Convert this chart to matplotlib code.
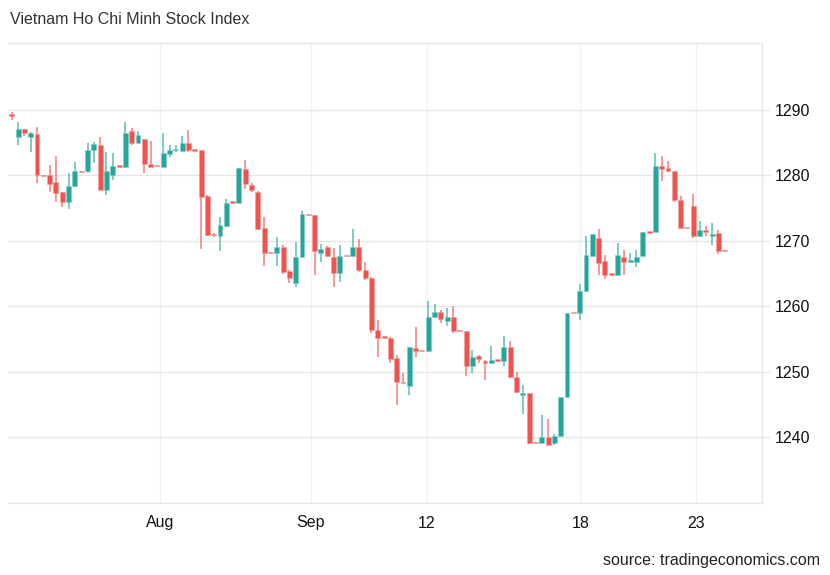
import numpy as np
import matplotlib
matplotlib.use("Agg")
import matplotlib.pyplot as plt

plt.rcParams['font.family'] = ['Liberation Sans', 'DejaVu Sans']

# daily candles (oldest first)
opens = [1289.3, 1285.8, 1287.05, 1285.9, 1286.3, 1280.1, 1280.1, 1279.0, 1277.4, 1276.0,
         1278.4, 1280.7, 1280.6, 1283.9, 1284.7, 1277.8, 1280.1, 1281.5, 1281.3, 1286.7,
         1284.9, 1285.5, 1281.75, 1281.5, 1281.35, 1283.2, 1283.8, 1283.7, 1284.9, 1283.85,
         1283.8, 1276.9, 1271.0, 1270.8, 1272.3, 1275.9, 1275.85, 1280.95, 1278.55, 1277.4,
         1272.0, 1268.25, 1268.2, 1269.1, 1265.4, 1263.6, 1267.6, 1274.05, 1274.0, 1268.2,
         1269.0, 1267.6, 1265.1, 1267.75, 1267.7, 1269.1, 1265.6, 1264.3, 1256.4, 1255.3,
         1255.25, 1252.1, 1248.5, 1247.8, 1253.6, 1253.3, 1253.25, 1258.35, 1259.2, 1257.7,
         1258.35, 1256.35, 1256.3, 1250.9, 1252.45, 1251.7, 1251.4, 1251.8, 1251.7, 1253.8,
         1249.2, 1246.45, 1246.85, 1239.25, 1239.2, 1240.1, 1239.1, 1240.3, 1246.15, 1259.05,
         1259.0, 1262.3, 1267.7, 1270.5, 1266.95, 1264.95, 1264.8, 1267.6, 1266.85, 1266.85,
         1267.7, 1271.35, 1271.3, 1281.45, 1281.1, 1280.6, 1276.3, 1272.0, 1275.25, 1270.75,
         1271.6, 1270.75, 1271.2, 1268.55]
closes = [1289.0, 1287.05, 1286.4, 1286.5, 1280.0, 1279.9, 1278.7, 1277.3, 1276.0, 1278.4,
          1280.6, 1280.5, 1283.8, 1284.8, 1277.8, 1280.6, 1281.45, 1281.3, 1286.5, 1284.9,
          1286.2, 1281.75, 1281.35, 1281.4, 1283.4, 1283.9, 1284.05, 1284.9, 1283.8, 1283.75,
          1276.7, 1270.9, 1270.85, 1272.4, 1275.85, 1275.8, 1281.1, 1278.7, 1277.8, 1271.8,
          1268.2, 1268.15, 1269.0, 1265.2, 1264.3, 1267.6, 1274.1, 1273.95, 1268.4, 1268.8,
          1267.7, 1265.1, 1267.7, 1267.65, 1269.1, 1265.5, 1264.3, 1256.4, 1255.25, 1255.2,
          1252.0, 1248.5, 1248.3, 1253.8, 1253.2, 1253.2, 1258.35, 1259.2, 1258.05, 1258.35,
          1256.2, 1256.25, 1250.9, 1252.25, 1251.95, 1251.4, 1251.85, 1251.7, 1253.8, 1249.2,
          1247.0, 1246.85, 1239.1, 1239.15, 1240.1, 1238.85, 1240.3, 1246.15, 1258.95, 1258.95,
          1262.3, 1267.85, 1271.0, 1266.7, 1264.8, 1264.85, 1267.85, 1266.85, 1267.1, 1267.6,
          1271.3, 1271.25, 1281.45, 1281.0, 1280.7, 1276.3, 1271.95, 1271.9, 1270.75, 1271.7,
          1271.3, 1271.1, 1268.4, 1268.45]
highs = [1289.7, 1288.2, 1287.1, 1286.6, 1287.4, 1280.1, 1281.6, 1283.0, 1277.4, 1280.3,
         1282.0, 1280.7, 1285.0, 1285.1, 1285.8, 1283.5, 1283.4, 1281.5, 1288.2, 1287.2,
         1286.8, 1285.6, 1285.2, 1281.5, 1286.5, 1284.7, 1284.7, 1286.0, 1286.95, 1283.85,
         1283.8, 1277.0, 1271.2, 1273.7, 1276.4, 1275.9, 1281.1, 1282.4, 1278.8, 1277.6,
         1273.6, 1268.25, 1270.6, 1269.4, 1265.6, 1269.9, 1274.5, 1274.05, 1274.0, 1269.55,
         1269.2, 1268.9, 1269.4, 1267.75, 1271.8, 1270.3, 1266.85, 1264.55, 1257.9, 1255.3,
         1255.4, 1252.6, 1249.8, 1253.8, 1256.8, 1253.3, 1260.9, 1260.4, 1259.5, 1259.7,
         1260.0, 1256.35, 1256.3, 1253.35, 1252.6, 1251.85, 1254.0, 1251.8, 1255.5, 1254.65,
         1250.0, 1248.0, 1246.85, 1239.25, 1243.4, 1242.8, 1240.5, 1246.15, 1258.95, 1259.05,
         1263.4, 1270.7, 1271.1, 1271.8, 1267.85, 1264.95, 1269.75, 1268.6, 1268.1, 1268.6,
         1271.3, 1271.35, 1283.4, 1282.9, 1282.2, 1280.6, 1276.9, 1272.0, 1277.2, 1273.1,
         1272.2, 1272.7, 1271.7, 1268.55]
lows = [1288.4, 1284.7, 1286.0, 1283.5, 1278.8, 1279.9, 1277.5, 1275.9, 1275.2, 1274.8,
        1278.2, 1280.5, 1280.4, 1281.9, 1277.7, 1277.0, 1279.3, 1281.3, 1281.1, 1284.7,
        1284.9, 1280.3, 1281.3, 1281.4, 1281.35, 1282.8, 1283.6, 1283.6, 1283.6, 1283.75,
        1268.7, 1270.8, 1270.6, 1268.5, 1272.1, 1275.8, 1275.8, 1277.9, 1277.5, 1271.6,
        1266.2, 1268.15, 1266.2, 1265.0, 1263.6, 1262.9, 1267.5, 1273.95, 1264.8, 1266.85,
        1267.5, 1262.9, 1263.8, 1267.65, 1267.6, 1265.3, 1264.05, 1255.9, 1252.35, 1255.2,
        1251.3, 1245.0, 1248.3, 1246.5, 1252.35, 1253.2, 1253.1, 1258.3, 1257.5, 1257.0,
        1255.9, 1256.25, 1249.4, 1249.8, 1251.3, 1248.8, 1251.2, 1251.7, 1250.9, 1249.05,
        1246.8, 1243.6, 1239.0, 1239.15, 1239.1, 1238.8, 1238.85, 1240.3, 1246.15, 1258.95,
        1258.0, 1262.2, 1267.6, 1264.8, 1264.15, 1264.85, 1264.8, 1264.8, 1266.85, 1266.0,
        1267.7, 1271.25, 1271.3, 1279.2, 1280.6, 1275.9, 1271.9, 1271.9, 1270.4, 1270.55,
        1270.7, 1269.4, 1268.0, 1268.45]

tick_pos = [23.5, 47.4, 65.8, 90.1, 108.4]
tick_labels = ['Aug', 'Sep', '12', '18', '23']

up_col, down_col = '#26a69a', '#ef5350'
up_wick, down_wick = '#5cbdb3', '#f47d7b'

o = np.array(opens)
c = np.array(closes)
h = np.array(highs)
l = np.array(lows)
x = np.arange(len(o))
up = c >= o

fig = plt.figure(figsize=(8.3, 5.75), dpi=100)
ax = fig.add_axes([8 / 830, 1 - 503 / 575, (762 - 8) / 830, (503 - 43) / 575])

# wicks
ax.vlines(x[up], l[up], h[up], color=up_wick, lw=1.1, zorder=2)
ax.vlines(x[~up], l[~up], h[~up], color=down_wick, lw=1.1, zorder=2)

# bodies (doji get a thin minimum height)
bottom = np.minimum(o, c)
height = np.maximum(np.abs(c - o), 0.22)
ax.bar(x[up], height[up], bottom=bottom[up], width=0.78, color=up_col,
       edgecolor='#7fcdc5', lw=0.4, zorder=3)
ax.bar(x[~up], height[~up], bottom=bottom[~up], width=0.78, color=down_col,
       edgecolor='#f59d9b', lw=0.4, zorder=3)

ax.set_xlim(-0.6, 118.9)
ax.set_ylim(1230, 1300.2)

ax.set_yticks(np.arange(1240, 1291, 10))
ax.yaxis.tick_right()
ax.tick_params(axis='y', length=6, width=1, color='#e6e6e6', pad=3,
               labelsize=11.5, labelcolor='#111111')
ax.set_xticks(tick_pos)
ax.set_xticklabels(tick_labels)
ax.tick_params(axis='x', length=0, pad=9, labelsize=11.5, labelcolor='#111111')

ax.grid(axis='y', color='#e6e6e6', lw=1, zorder=0)
ax.grid(axis='x', color='#eef3f3', lw=1, zorder=0)
ax.set_axisbelow(True)

for side in ['top', 'bottom', 'right']:
    ax.spines[side].set_color('#e6e6e6')
    ax.spines[side].set_linewidth(1)
ax.spines['left'].set_visible(False)

fig.text(10 / 830, 1 - 20 / 575, 'Vietnam Ho Chi Minh Stock Index',
         ha='left', va='center', fontsize=11.5, color='#333333')
fig.text(820 / 830, 1 - 561 / 575, 'source: tradingeconomics.com',
         ha='right', va='center', fontsize=11.5, color='#222222')

fig.savefig('out.png', dpi=100)
